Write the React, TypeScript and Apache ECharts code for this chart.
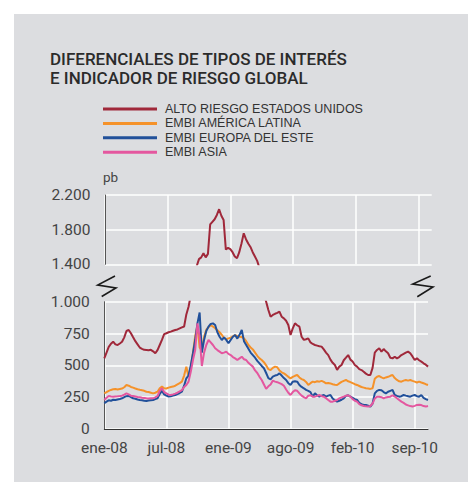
import React, { useEffect, useRef } from "react";
import * as echarts from "echarts";

const xLabels = ["ene-08", "jul-08", "ene-09", "ago-09", "feb-10", "sep-10"];
const LABEL_STEP = 28;

const seriesNames = [
  "ALTO RIESGO ESTADOS UNIDOS",
  "EMBI AMÉRICA LATINA",
  "EMBI EUROPA DEL ESTE",
  "EMBI ASIA",
];
const seriesColors = ["#a0283a", "#f5922a", "#21509a", "#e4579f"];

const altoRiesgo = [
  555, 600, 645, 670, 686, 665, 660, 672, 685, 720,
  770, 778, 752, 720, 690, 665, 640, 630, 622, 621,
  618, 622, 610, 595, 620, 660, 700, 745, 752, 760,
  765, 772, 778, 782, 790, 798, 805, 900, 960, 1050,
  1250, 1380, 1460, 1480, 1527, 1480, 1520, 1860, 1890, 1920,
  1970, 2036, 1960, 1912, 1570, 1590, 1575, 1540, 1490, 1470,
  1540, 1640, 1758, 1690, 1640, 1600, 1540, 1490, 1440, 1360,
  1250, 1150, 1060, 1000, 935, 882, 896, 905, 912, 922,
  882, 869, 850, 817, 738, 790, 830, 815, 804, 725,
  700, 705, 712, 680, 668, 660, 655, 650, 647, 625,
  600, 580, 545, 520, 503, 465, 490, 503, 540, 560,
  581, 545, 530, 503, 490, 470, 463, 450, 435, 424,
  424, 480, 600, 621, 634, 608, 628, 610, 595, 560,
  555, 568, 555, 565, 581, 590, 600, 608, 595, 570,
  542, 555, 540, 529, 516, 505, 490,
];

const embiLatam = [
  280, 290, 300, 307, 312, 314, 310, 314, 318, 328,
  346, 340, 330, 325, 318, 312, 308, 305, 300, 293,
  290, 285, 280, 285, 293, 320, 333, 320, 318, 325,
  330, 333, 340, 350, 360, 372, 420, 490, 411, 480,
  600, 730, 810, 640, 620, 725, 780, 800, 815, 805,
  792, 775, 760, 740, 715, 705, 712, 718, 728, 738,
  730, 725, 722, 712, 690, 660, 640, 625, 600, 575,
  555, 542, 525, 500, 470, 463, 480, 490, 485, 460,
  445, 437, 425, 410, 398, 410, 418, 424, 405, 392,
  385, 370, 346, 360, 372, 368, 375, 372, 378, 370,
  359, 362, 358, 352, 348, 346, 358, 370, 378, 385,
  375, 368, 360, 352, 346, 338, 330, 325, 320, 318,
  315, 320, 395, 411, 416, 405, 398, 405, 410, 418,
  424, 400, 385, 375, 372, 380, 385, 380, 385, 378,
  372, 365, 372, 365, 359, 352, 346,
];

const embiEuropa = [
  202, 215, 225, 222, 230, 228, 232, 236, 241, 250,
  258, 260, 250, 241, 238, 232, 228, 225, 222, 220,
  224, 226, 228, 235, 241, 275, 300, 272, 262, 255,
  258, 262, 267, 275, 283, 293, 340, 398, 420, 500,
  595, 699, 830, 915, 600, 700, 770, 804, 825, 830,
  817, 760, 725, 699, 720, 700, 673, 700, 725, 738,
  710, 740, 778, 690, 660, 630, 600, 580, 560, 535,
  516, 495, 477, 440, 400, 390, 411, 420, 424, 437,
  420, 400, 385, 360, 346, 372, 375, 372, 346, 330,
  320, 307, 300, 290, 254, 280, 265, 254, 262, 267,
  254, 262, 267, 240, 225, 215, 222, 230, 241, 260,
  265, 254, 245, 235, 228, 205, 195, 189, 189, 183,
  176, 200, 280, 300, 307, 305, 290, 280, 293, 300,
  307, 267, 260, 254, 258, 267, 262, 258, 254, 262,
  267, 258, 254, 267, 245, 235, 228,
];

const embiAsia = [
  228, 245, 259, 255, 254, 256, 257, 259, 262, 270,
  280, 272, 262, 259, 255, 251, 249, 245, 243, 241,
  240, 241, 241, 248, 259, 300, 320, 290, 280, 270,
  267, 272, 278, 285, 295, 306, 330, 346, 372, 450,
  542, 621, 830, 725, 495, 600, 660, 699, 680, 660,
  634, 620, 608, 595, 600, 608, 590, 581, 565, 555,
  542, 555, 568, 548, 542, 520, 505, 490, 460, 440,
  410, 385, 350, 315, 335, 350, 380, 372, 368, 360,
  352, 340, 310, 285, 267, 290, 305, 300, 280, 262,
  250, 241, 262, 265, 254, 254, 260, 267, 258, 254,
  241, 228, 215, 215, 222, 228, 241, 248, 254, 262,
  265, 254, 235, 222, 215, 195, 186, 181, 178, 176,
  181, 200, 240, 254, 254, 250, 241, 248, 252, 254,
  265, 255, 241, 228, 215, 205, 192, 186, 180, 176,
  182, 189, 190, 188, 180, 176, 181,
];

const weeks = altoRiesgo.map((_, i) => String(i));

const upperMin = 1400;
const upperMax = 2200;
const upperStep = 400;
const lowerMin = 0;
const lowerMax = 1000;
const lowerStep = 250;

const fmtThousands = (v: number) => {
  if (v >= 1000) {
    const th = Math.floor(v / 1000);
    const rest = String(v % 1000).padStart(3, "0");
    return `${th}.${rest}`;
  }
  return String(v);
};

const FONT = "Roboto, 'Liberation Sans', Arial, sans-serif";
const LEGEND_FONT = "'Liberation Sans', Arial, sans-serif";

export default function App() {
  const ref = useRef<HTMLDivElement>(null);

  useEffect(() => {
    if (!ref.current) return;
    const chart = echarts.init(ref.current, undefined, { renderer: "svg" });

    const lowerData = [altoRiesgo, embiLatam, embiEuropa, embiAsia];

    const splitLine = { show: true, lineStyle: { color: "#ffffff", width: 1.5 } };
    const labelStyle = { fontFamily: FONT, fontSize: 15.5, color: "#444" };

    const option: any = {
      animation: false,
      backgroundColor: "transparent",
      title: {
        text: "DIFERENCIALES DE TIPOS DE INTERÉS\nE INDICADOR DE RIESGO GLOBAL",
        left: 50,
        top: 49.5,
        padding: 0,
        textStyle: {
          fontFamily: FONT,
          fontSize: 17,
          fontWeight: 500,
          color: "#2b2b2b",
          lineHeight: 18.7,
        },
      },
      legend: {
        data: seriesNames,
        orient: "vertical",
        left: 103,
        top: 101.8,
        padding: 0,
        itemWidth: 54,
        itemHeight: 3,
        itemGap: 0,
        icon: "rect",
        selectedMode: false,
        textStyle: {
          fontFamily: LEGEND_FONT,
          fontSize: 12.5,
          color: "#333",
          lineHeight: 14.4,
          padding: [0, 0, 0, 3],
        },
      },
      grid: [
        { left: 105, top: 195, width: 326.7, height: 69.3 },
        { left: 104.3, top: 301.7, width: 323.7, height: 127.3 },
      ],
      xAxis: [
        {
          gridIndex: 0,
          type: "category",
          data: weeks,
          boundaryGap: false,
          axisLine: { show: false },
          axisTick: { show: false },
          axisLabel: { show: false, interval: LABEL_STEP - 1 },
          splitLine: { ...splitLine, interval: LABEL_STEP - 1 },
        },
        {
          gridIndex: 1,
          type: "category",
          data: weeks,
          boundaryGap: false,
          axisLine: { show: true, lineStyle: { color: "#333", width: 1 } },
          axisTick: { show: false },
          axisLabel: {
            ...labelStyle,
            interval: LABEL_STEP - 1,
            margin: 11,
            formatter: (_v: string, idx: number) => xLabels[Math.round(idx / LABEL_STEP)] ?? "",
          },
          splitLine: { ...splitLine, interval: LABEL_STEP - 1 },
        },
      ],
      yAxis: [
        {
          gridIndex: 0,
          type: "value",
          min: upperMin,
          max: upperMax,
          interval: upperStep,
          axisLine: { show: true, lineStyle: { color: "#555", width: 1 } },
          axisTick: { show: false },
          axisLabel: { ...labelStyle, margin: 14.5, formatter: fmtThousands },
          splitLine,
        },
        {
          gridIndex: 1,
          type: "value",
          min: lowerMin,
          max: lowerMax,
          interval: lowerStep,
          axisLine: { show: true, lineStyle: { color: "#555", width: 1 } },
          axisTick: { show: false },
          axisLabel: { ...labelStyle, margin: 14.5, formatter: fmtThousands },
          splitLine,
        },
      ],
      series: [
        {
          name: seriesNames[0],
          type: "line",
          xAxisIndex: 0,
          yAxisIndex: 0,
          data: altoRiesgo,
          showSymbol: false,
          symbol: "none",
          clip: true,
          color: seriesColors[0],
          lineStyle: { color: seriesColors[0], width: 2 },
        },
        ...lowerData.map((d, k) => ({
          name: seriesNames[k],
          type: "line",
          xAxisIndex: 1,
          yAxisIndex: 1,
          data: d,
          showSymbol: false,
          symbol: "none",
          clip: true,
          color: seriesColors[k],
          lineStyle: { color: seriesColors[k], width: 2 },
        })),
      ],
      graphic: [
        {
          type: "rect",
          z: -100,
          silent: true,
          shape: { x: 14, y: 14, width: 454, height: 468 },
          style: { fill: "#dcdde0" },
        },
        {
          type: "text",
          x: 103,
          y: 177,
          style: {
            text: "pb",
            font: `13.5px ${FONT}`,
            fill: "#444",
            verticalAlign: "middle",
          },
        },
        {
          type: "polyline",
          shape: { points: [[115, 276], [97.7, 285], [116, 288], [101.7, 296.5]] },
          style: { stroke: "#1a1a1a", lineWidth: 1.6, fill: "none" },
        },
        {
          type: "polyline",
          shape: { points: [[430.7, 276], [412.7, 284], [433, 287], [417.3, 296.7]] },
          style: { stroke: "#1a1a1a", lineWidth: 1.6, fill: "none" },
        },
      ],
    };

    chart.setOption(option);
    return () => chart.dispose();
  }, []);

  return (
    <div
      ref={ref}
      style={{ position: "absolute", left: 0, top: 0, width: 468, height: 482 }}
    />
  );
}
